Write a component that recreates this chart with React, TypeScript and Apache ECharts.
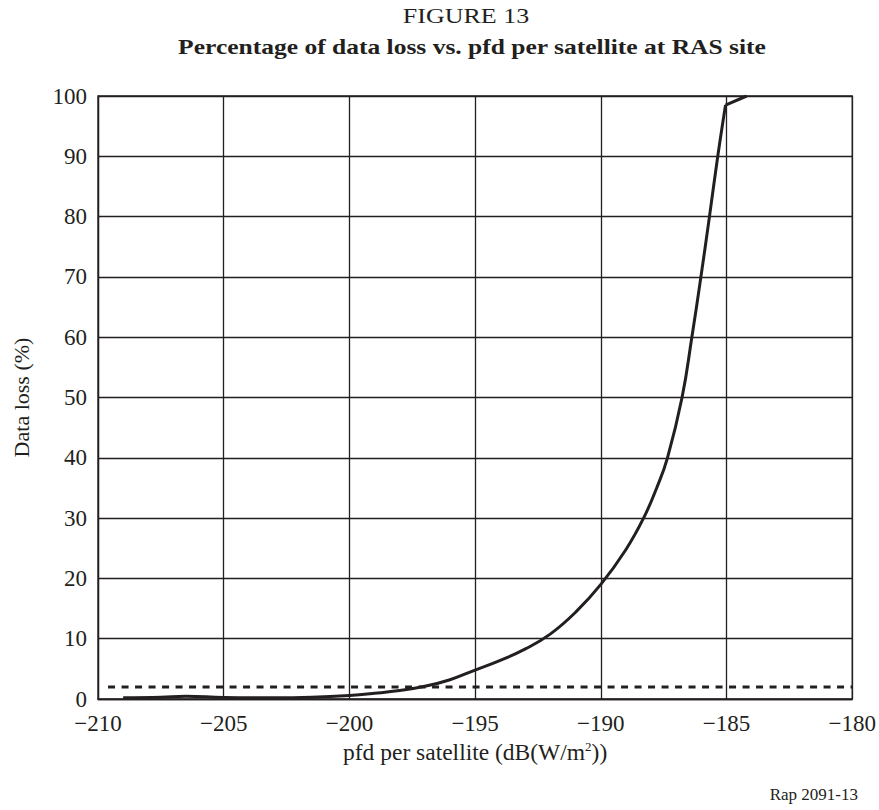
import React, { useEffect, useRef } from "react";
import * as echarts from "echarts";

const pfdValues = [-209, -207.5, -206.5, -205, -203, -201.5, -200, -199, -198, -197, -196, -195, -194, -193, -192, -191, -190, -189, -188.3, -187.78, -187.35, -186.77, -186.38, -186.02, -185.68, -185.35, -185.04];
const lossValues = [0.2, 0.3, 0.45, 0.25, 0.2, 0.3, 0.6, 0.95, 1.4, 2.1, 3.2, 4.8, 6.4, 8.3, 10.8, 14.4, 19, 24.8, 30, 35, 40, 50, 60, 70, 80, 90, 98.5];
const saturationX = [-185.04, -184.2];
const saturationY = [98.5, 100];
const thresholdX = [-209.6, -180];
const thresholdY = [2, 2];
const xTicks = [-210, -205, -200, -195, -190, -185, -180];
const yTicks = [0, 10, 20, 30, 40, 50, 60, 70, 80, 90, 100];

const FONT = "'Liberation Serif', 'Times New Roman', serif";
const INK = "#231f20";

export default function App() {
  const ref = useRef<HTMLDivElement>(null);
  useEffect(() => {
    const chart = echarts.init(ref.current!, undefined, { renderer: "svg" });
    chart.setOption({
      animation: false,
      backgroundColor: "#ffffff",
      textStyle: { fontFamily: FONT, color: INK },
      graphic: [
        { type: "text", x: 466, y: 16, originX: 0, originY: 0, scaleX: 1.3, style: { text: "FIGURE 13", font: `20px ${FONT}`, fill: INK, align: "center", verticalAlign: "middle" } },
        { type: "text", x: 472, y: 47, originX: 0, originY: 0, scaleX: 1.16, style: { text: "Percentage of data loss vs. pfd per satellite at RAS site", font: `bold 22px ${FONT}`, fill: INK, align: "center", verticalAlign: "middle" } },
        { type: "text", right: 21, top: 786, style: { text: "Rap 2091-13", font: `17px ${FONT}`, fill: INK } },
      ],
      grid: { left: 98, right: 24, top: 96, bottom: 111, show: true, borderColor: INK, borderWidth: 1.3 },
      xAxis: {
        type: "value",
        min: xTicks[0],
        max: xTicks[xTicks.length - 1],
        interval: 5,
        name: "{a|pfd per satellite (dB(W/m}{s|2}{a|))}",
        nameLocation: "middle",
        nameGap: 36,
        nameTextStyle: {
          rich: {
            a: { fontFamily: FONT, fontSize: 23.5, color: INK },
            s: { fontFamily: FONT, fontSize: 13, color: INK, verticalAlign: "top", padding: [0, 0, 12, 0] },
          },
        },
        axisLine: { show: true, lineStyle: { color: INK, width: 1.3 } },
        axisTick: { show: false },
        axisLabel: { fontFamily: FONT, fontSize: 23, color: INK, margin: 13, formatter: (v: number) => String(v).replace("-", "\u2212") },
        splitLine: { show: true, lineStyle: { color: INK, width: 1.3 } },
      },
      yAxis: {
        type: "value",
        min: yTicks[0],
        max: yTicks[yTicks.length - 1],
        interval: 10,
        name: "Data loss (%)",
        nameLocation: "middle",
        nameGap: 66,
        nameTextStyle: { fontFamily: FONT, fontSize: 22, color: INK },
        axisLine: { show: true, lineStyle: { color: INK, width: 1.3 } },
        axisTick: { show: false },
        axisLabel: { fontFamily: FONT, fontSize: 23, color: INK, margin: 11 },
        splitLine: { show: true, lineStyle: { color: INK, width: 1.3 } },
      },
      series: [
        {
          type: "line",
          data: thresholdX.map((x, i) => [x, thresholdY[i]]),
          showSymbol: false,
          lineStyle: { color: INK, width: 3, type: [7, 6.5] },
          silent: true,
        },
        {
          type: "line",
          data: pfdValues.map((x, i) => [x, lossValues[i]]),
          showSymbol: false,
          smooth: 0.45,
          lineStyle: { color: INK, width: 3 },
          silent: true,
        },
        {
          type: "line",
          data: saturationX.map((x, i) => [x, saturationY[i]]),
          showSymbol: false,
          lineStyle: { color: INK, width: 3 },
          silent: true,
        },
      ],
    });
    return () => chart.dispose();
  }, []);
  return <div ref={ref} style={{ width: 879, height: 810, position: "absolute", left: 0, top: 0 }} />;
}
